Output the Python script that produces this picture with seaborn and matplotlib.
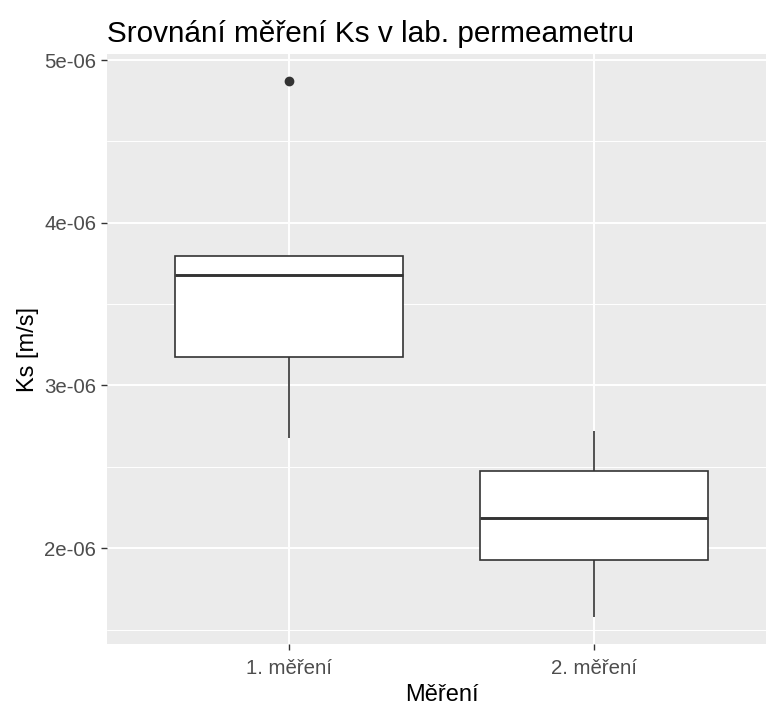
import numpy as np
import pandas as pd
import seaborn as sns
import matplotlib
matplotlib.use("Agg")
import matplotlib.pyplot as plt

# Saturated hydraulic conductivity Ks [m/s] from the lab permeameter
categories = ["1. měření", "2. měření"]
ks_first = [2.68e-06, 3.175e-06, 3.68e-06, 3.795e-06, 4.87e-06]
ks_second = [1.577e-06, 1.927e-06, 2.185e-06, 2.474e-06, 2.72e-06]
y_ticks = [2e-06, 3e-06, 4e-06, 5e-06]
y_tick_labels = ["2e-06", "3e-06", "4e-06", "5e-06"]
y_minor = [1.5e-06, 2.5e-06, 3.5e-06, 4.5e-06]

df = pd.DataFrame({
    "Měření": [categories[0]] * len(ks_first) + [categories[1]] * len(ks_second),
    "Ks": ks_first + ks_second,
})

sns.set_theme(style="darkgrid")
plt.rcParams["font.family"] = ["Liberation Sans", "DejaVu Sans"]

W, H = 766, 709
fig = plt.figure(figsize=(W / 100, H / 100), dpi=100)
fig.patch.set_facecolor("white")
left, right, top, bottom = 107, 776, 54, 644
ax = fig.add_axes([left / W, 1 - bottom / H, (right - left) / W, (bottom - top) / H])
ax.set_facecolor("#EBEBEB")

sns.boxplot(
    data=df, x="Měření", y="Ks", order=categories, ax=ax,
    color="white", saturation=1, width=0.75, linecolor="#333333", linewidth=1.2,
    whis=1.5, showcaps=False,
    medianprops=dict(linewidth=2.1, color="#333333"),
    flierprops=dict(marker="o", markersize=6, markerfacecolor="#333333",
                    markeredgecolor="#333333"),
    zorder=3,
)

ax.set_xlim(-0.6, 1.6)
ax.set_ylim(1.411e-06, 5.037e-06)
ax.set_yticks(y_ticks)
ax.set_yticklabels(y_tick_labels)
ax.set_yticks(y_minor, minor=True)

ax.grid(False)
for y in y_ticks:
    ax.axhline(y, color="white", lw=1.4, zorder=0)
for y in y_minor:
    ax.axhline(y, color="white", lw=0.7, zorder=0)
for x in range(len(categories)):
    ax.axvline(x, color="white", lw=1.4, zorder=0)

for s in ax.spines.values():
    s.set_visible(False)

ax.tick_params(axis="both", which="major", length=4.5, width=1.0, color="#333333",
               labelsize=14.7, labelcolor="#4D4D4D")
ax.tick_params(axis="x", which="major", pad=6.3)
ax.tick_params(axis="y", which="major", pad=3.2)
ax.tick_params(axis="y", which="minor", length=0)
ax.tick_params(left=True, bottom=True)

ax.set_xlabel("Měření", fontsize=17, color="black", labelpad=4.5)
ax.set_ylabel("Ks [m/s]", fontsize=17, color="black", labelpad=4)
fig.text(left / W, 1 - 42 / H, "Srovnání měření Ks v lab. permeametru",
         fontsize=21.4, color="black", ha="left", va="baseline")

fig.savefig("out.png", dpi=100)
